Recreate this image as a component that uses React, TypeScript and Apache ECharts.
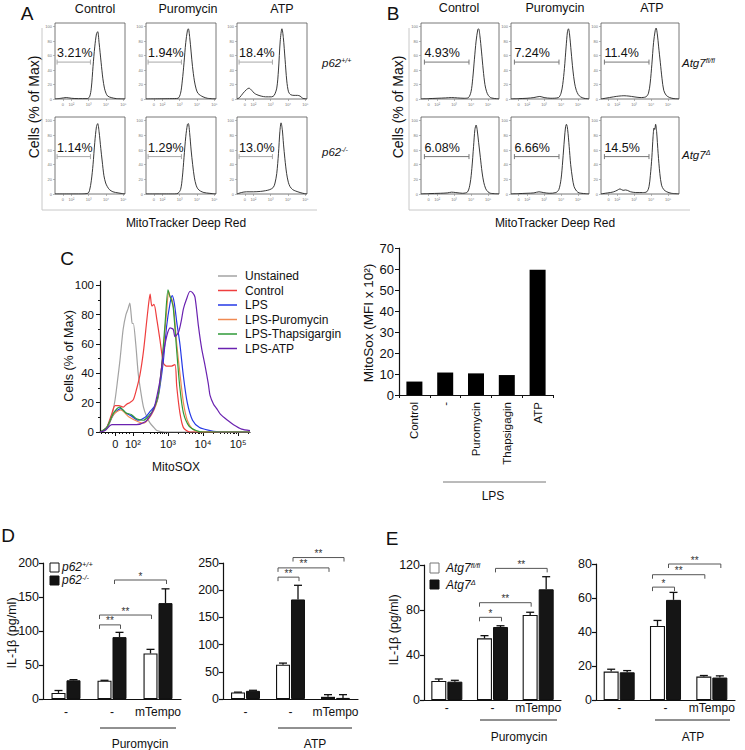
import React, { useEffect, useRef } from 'react';
import * as echarts from 'echarts';

const FONT = '"Liberation Sans", Arial, Helvetica, sans-serif';

// ---------- Panels A & B : flow histograms  [display units (log10), % of max] ----------
const conditions = ['Control', 'Puromycin', 'ATP'];
const flowTicks = [1.5, 2, 3, 4, 5];
const flowTickLabels = ['0', '10²', '10³', '10⁴', '10⁵'];
const pctTicks = [0, 20, 40, 60, 80, 100];

const A_ctrl_wt = [[1.05,0],[1.4,1],[1.7,2],[2.0,1],[2.4,0.5],[2.9,0.5],[3.05,3],[3.15,15],[3.25,45],[3.35,72],[3.45,90],[3.52,93],[3.6,78],[3.72,50],[3.82,28],[3.91,15],[4.0,8],[4.1,4],[4.3,2],[4.6,0.5],[5.1,0]];
const A_puro_wt = [[1.05,0],[2.5,0.5],[2.9,1],[3.05,8],[3.15,25],[3.25,50],[3.35,78],[3.45,95],[3.5,97],[3.58,85],[3.66,65],[3.74,45],[3.85,25],[3.95,14],[4.05,8],[4.2,5],[4.35,3],[4.6,1],[5.1,0]];
const A_atp_wt = [[1.05,0],[1.2,2],[1.4,8],[1.6,13],[1.74,15],[1.9,12],[2.05,8],[2.2,6],[2.45,4],[2.7,3],[3.05,3],[3.2,5],[3.35,15],[3.45,40],[3.55,80],[3.65,97],[3.73,85],[3.83,55],[3.93,25],[4.03,10],[4.15,6],[4.35,5],[4.55,5],[4.7,4],[4.85,1],[5.1,0]];
const A_ctrl_ko = [[1.05,0],[2.5,0],[2.95,1],[3.05,5],[3.15,18],[3.25,40],[3.35,70],[3.45,92],[3.52,96],[3.6,85],[3.7,62],[3.78,45],[3.88,25],[3.98,15],[4.08,10],[4.2,6],[4.4,3],[4.7,1.5],[5.1,0]];
const A_puro_ko = [[1.05,0],[2.7,0],[2.9,1],[3.05,6],[3.15,22],[3.25,50],[3.35,78],[3.45,95],[3.5,96],[3.58,82],[3.66,60],[3.75,40],[3.85,22],[3.95,12],[4.05,7],[4.2,4],[4.4,2],[4.7,1],[5.1,0]];
const A_atp_ko = [[1.05,0],[1.3,2],[1.6,3],[2.0,3],[2.4,3.5],[2.7,4.5],[2.95,6],[3.15,9],[3.25,15],[3.35,28],[3.45,55],[3.53,85],[3.6,97],[3.67,88],[3.74,68],[3.82,48],[3.92,28],[4.02,16],[4.12,10],[4.27,6],[4.45,4],[4.7,2],[4.95,0.5],[5.1,0]];
const A_pct = ['3.21%', '1.94%', '18.4%', '1.14%', '1.29%', '13.0%'];

const B_ctrl_ff = [[1.05,0],[1.5,0.5],[2.0,1],[2.5,1.5],[2.85,2],[3.2,1.5],[3.6,1],[3.85,2],[4.0,10],[4.1,28],[4.2,55],[4.3,80],[4.4,96],[4.45,97],[4.52,88],[4.62,65],[4.72,40],[4.82,20],[4.92,10],[5.02,5],[5.15,2],[5.3,1],[5.65,0]];
const B_puro_ff = [[1.05,0],[1.5,0.5],[2.0,1],[2.4,2],[2.75,3.5],[3.0,2],[3.4,1],[3.85,2],[4.0,8],[4.1,20],[4.2,42],[4.3,72],[4.38,93],[4.44,97],[4.5,90],[4.6,65],[4.7,40],[4.8,22],[4.9,12],[5.02,6],[5.15,3],[5.35,1],[5.65,0]];
const B_atp_ff = [[1.05,0],[1.3,1],[1.8,3],[2.1,4],[2.4,4.5],[2.7,4],[3.0,3],[3.35,2],[3.7,3],[3.85,8],[3.95,22],[4.05,48],[4.15,78],[4.25,95],[4.3,98],[4.37,90],[4.45,72],[4.55,50],[4.65,28],[4.75,12],[4.9,5],[5.1,2],[5.35,0.5],[5.65,0]];
const B_ctrl_d = [[1.05,0],[1.5,0.5],[2.2,1],[2.6,1.5],[2.85,2.5],[3.1,2],[3.5,1],[3.8,3],[3.95,15],[4.05,35],[4.15,65],[4.23,88],[4.3,94],[4.36,88],[4.45,70],[4.55,50],[4.65,30],[4.75,16],[4.87,7],[5.0,3],[5.15,1],[5.65,0]];
const B_puro_d = [[1.05,0],[1.5,0.5],[2.0,1],[2.4,1.5],[2.7,3],[2.95,2],[3.3,1],[3.7,2],[3.87,6],[4.0,20],[4.1,45],[4.2,75],[4.27,92],[4.32,95],[4.39,88],[4.48,65],[4.57,40],[4.67,22],[4.77,10],[4.92,4],[5.07,1.5],[5.65,0]];
const B_atp_d = [[1.05,0],[1.3,1],[1.6,2],[1.8,3],[2.0,5],[2.17,7],[2.35,5],[2.5,5.5],[2.6,5],[2.8,3],[3.1,2],[3.5,2],[3.75,3],[3.88,10],[3.96,25],[4.05,50],[4.12,78],[4.18,90],[4.22,88],[4.27,95],[4.33,85],[4.42,55],[4.52,28],[4.62,12],[4.75,6],[4.93,3],[5.2,1],[5.65,0]];
const B_pct = ['4.93%', '7.24%', '11.4%', '6.08%', '6.66%', '14.5%'];

// ---------- Panel C ----------
const C_names = ['Unstained', 'Control', 'LPS', 'LPS-Puromycin', 'LPS-Thapsigargin', 'LPS-ATP'];
const C_colors = ['#a3a3a3', '#ef3e3e', '#2438e6', '#f08a52', '#2f9a38', '#6a22b0'];
const C_unstained = [[1.06,0],[1.2,1],[1.3,4],[1.39,10],[1.49,22],[1.56,35],[1.63,49],[1.72,70],[1.8,80],[1.86,84],[1.91,88],[1.95,80],[1.98,74],[2.01,74],[2.08,60],[2.15,40],[2.22,28],[2.3,17],[2.4,10],[2.49,6],[2.6,3],[2.68,1],[2.91,0],[5.34,0]];
const C_control = [[1.06,0],[1.15,1],[1.25,3],[1.39,12],[1.49,18],[1.6,18],[1.72,17],[1.82,19],[1.91,20],[2.01,22],[2.1,29],[2.2,39],[2.3,55],[2.39,75],[2.45,88],[2.49,94],[2.54,86],[2.6,87],[2.68,77],[2.77,63],[2.87,47],[2.96,45],[3.1,45],[3.2,46],[3.25,31],[3.34,13],[3.44,3],[3.63,0],[5.34,0]];
const C_lps = [[1.06,0],[1.25,3],[1.45,12],[1.65,16],[1.8,13],[1.95,11],[2.15,8],[2.35,10],[2.49,14],[2.6,17],[2.7,22],[2.77,31],[2.87,49],[2.96,72],[3.06,88],[3.12,93],[3.18,88],[3.25,75],[3.34,60],[3.44,38],[3.55,20],[3.7,8],[3.9,3],[4.2,1],[4.5,0],[5.34,0]];
const C_puro = [[1.06,0],[1.25,3],[1.45,12],[1.65,15],[1.9,10],[2.15,7],[2.3,6],[2.45,9],[2.6,15],[2.7,22],[2.8,40],[2.9,65],[2.97,85],[3.02,96],[3.06,92],[3.12,90],[3.18,80],[3.25,60],[3.34,40],[3.44,20],[3.55,8],[3.7,2],[3.9,0],[5.34,0]];
const C_thaps = [[1.06,0],[1.25,3],[1.45,13],[1.62,17],[1.8,13],[1.95,12],[2.1,9],[2.3,8],[2.45,11],[2.6,16],[2.72,25],[2.82,45],[2.92,75],[3.0,97],[3.05,93],[3.1,90],[3.15,85],[3.25,55],[3.34,30],[3.44,13],[3.6,4],[3.8,1],[4.0,0],[5.34,0]];
const C_atp = [[1.06,0],[1.2,1],[1.4,5],[1.7,5],[2.1,5],[2.35,7],[2.49,11],[2.6,16],[2.68,24],[2.77,35],[2.87,54],[2.97,66],[3.06,71],[3.15,70],[3.2,65],[3.3,68],[3.38,76],[3.44,84],[3.52,90],[3.63,96],[3.7,95],[3.77,92],[3.87,72],[3.96,57],[4.06,45],[4.15,33],[4.2,25],[4.3,19],[4.39,16],[4.5,12],[4.7,8],[4.87,5],[5.1,2],[5.34,1]];
const C_minorTicks = [1.1, 1.2, 1.3, 1.4, 1.6, 1.7, 1.8, 1.9, 2.3, 2.48, 2.6, 2.7, 2.78, 2.85, 2.9, 2.95, 3.3, 3.48, 3.6, 3.7, 3.78, 3.85, 3.9, 3.95, 4.3, 4.48, 4.6, 4.7, 4.78, 4.85, 4.9, 4.95, 5.3];

const C_bar_categories = ['Control', '-', 'Puromycin', 'Thapsigagin', 'ATP'];
const C_bar_values = [6.4, 10.7, 10.3, 9.5, 59.6];

// ---------- Panels D & E ----------
const treatLabels = ['-', '-', 'mTempo'];
const D_puro_wt = [9, 27, 67];
const D_puro_wt_err = [3.5, 0.5, 6];
const D_puro_ko = [27.5, 91, 141];
const D_puro_ko_err = [1, 7, 21];
const D_atp_wt = [12, 63, 4];
const D_atp_wt_err = [0.6, 3, 4];
const D_atp_ko = [15, 183, 2];
const D_atp_ko_err = [1, 26, 6];
const E_puro_ff = [16.9, 54.8, 75.6];
const E_puro_ff_err = [1.8, 2.4, 2.4];
const E_puro_d = [16.3, 64.9, 98.4];
const E_puro_d_err = [1.2, 1.1, 11.2];
const E_atp_ff = [16.7, 43.6, 13.8];
const E_atp_ff_err = [1.4, 3.2, 0.6];
const E_atp_d = [16.3, 58.9, 13.2];
const E_atp_d_err = [1.0, 4.4, 1.0];
// brackets: [group1, side1 (0 white / 1 black), group2, side2, y, label]
const D_puro_sig = [[1, 0, 1, 1, 109, '**'], [1, 0, 2, 0, 123.5, '**'], [1, 1, 2, 1, 175, '*']];
const D_atp_sig = [[1, 0, 1, 1, 224, '**'], [1, 0, 2, 0, 241, '**'], [1, 1, 2, 1, 260, '**']];
const E_puro_sig = [[1, 0, 1, 1, 73.5, '*'], [1, 0, 2, 0, 86.5, '**'], [1, 1, 2, 1, 117, '**']];
const E_atp_sig = [[1, 0, 1, 1, 66.4, '*'], [1, 0, 2, 0, 73.7, '**'], [1, 1, 2, 1, 80, '**']];

function labelFor(values: number[], labels: string[]) {
  return (v: number) => {
    const i = values.findIndex((t) => Math.abs(t - v) < 1e-6);
    return i >= 0 ? labels[i] : '';
  };
}

function buildOption() {
  const grid: any[] = [];
  const xAxis: any[] = [];
  const yAxis: any[] = [];
  const series: any[] = [];
  const graphic: any[] = [];

  const addGrid = (g: any, xa: any, ya: any) => {
    grid.push(g);
    const gi = grid.length - 1;
    xAxis.push({ position: 'bottom', ...xa, gridIndex: gi });
    yAxis.push({ position: 'left', ...ya, gridIndex: gi });
    return { gi, xi: xAxis.length - 1, yi: yAxis.length - 1 };
  };

  // ---- flow cells ----
  const flowCell = (left: number, top: number, width: number, height: number, xmax: number,
    data: number[][], gate: number[], pct: string, gateColor: string) => {
    const { xi, yi } = addGrid(
      { left, top, width, height, show: true, borderColor: '#555', borderWidth: 0.8, backgroundColor: 'transparent' },
      {
        type: 'value', min: 1.05, max: xmax, splitLine: { show: false }, axisLine: { show: false },
        axisTick: { show: true, customValues: flowTicks, length: 2, lineStyle: { color: '#888', width: 0.6 } },
        axisLabel: { show: true, customValues: flowTicks, formatter: labelFor(flowTicks, flowTickLabels), fontSize: 4, color: '#777', margin: 3, fontFamily: FONT },
      },
      {
        type: 'value', min: 0, max: 105, splitLine: { show: false }, axisLine: { show: false },
        axisTick: { show: true, customValues: pctTicks, length: 2, lineStyle: { color: '#888', width: 0.6 } },
        axisLabel: { show: true, customValues: pctTicks, fontSize: 4, color: '#777', margin: 3, fontFamily: FONT },
      }
    );
    series.push({
      type: 'line', xAxisIndex: xi, yAxisIndex: yi, data, smooth: 0.3, symbol: 'none', silent: true,
      lineStyle: { color: '#222', width: 0.9 },
    });
    series.push({
      type: 'custom', xAxisIndex: xi, yAxisIndex: yi, silent: true, data: [gate],
      renderItem: (params: any, api: any) => {
        const a = api.coord([api.value(0), api.value(2)]);
        const b = api.coord([api.value(1), api.value(2)]);
        const st = { stroke: gateColor, lineWidth: 1 };
        return {
          type: 'group', children: [
            { type: 'line', shape: { x1: a[0], y1: a[1], x2: b[0], y2: b[1] }, style: st },
            { type: 'line', shape: { x1: a[0], y1: a[1] - 2.5, x2: a[0], y2: a[1] + 2.5 }, style: st },
            { type: 'line', shape: { x1: b[0], y1: b[1] - 2.5, x2: b[0], y2: b[1] + 2.5 }, style: st },
            { type: 'text', x: a[0], y: a[1] - 9, style: { text: pct, fontSize: 12.5, fill: '#111', align: 'left', verticalAlign: 'middle', fontFamily: FONT } },
          ],
        };
      },
    });
  };

  const A_data = [A_ctrl_wt, A_puro_wt, A_atp_wt, A_ctrl_ko, A_puro_ko, A_atp_ko];
  const B_data = [B_ctrl_ff, B_puro_ff, B_atp_ff, B_ctrl_d, B_puro_d, B_atp_d];
  const A_lefts = [55, 146, 237];
  const B_lefts = [421, 511, 601];
  const rowTops = [23, 117];
  const rowHeights = [76, 77];
  for (let r = 0; r < 2; r++) {
    for (let c = 0; c < 3; c++) {
      flowCell(A_lefts[c], rowTops[r], 70, rowHeights[r], 5.1, A_data[r * 3 + c], [1.17, 3.1, 51], A_pct[r * 3 + c], '#a8a8a8');
      flowCell(B_lefts[c], rowTops[r], 78, rowHeights[r], 5.65, B_data[r * 3 + c], [1.25, 3.88, 51], B_pct[r * 3 + c], '#777');
    }
  }

  // ---- Panel C histogram ----
  const ch = addGrid(
    { left: 100, top: 281, width: 150, height: 151 },
    {
      type: 'value', min: 1.06, max: 5.34, splitLine: { show: false },
      axisLine: { show: true, lineStyle: { color: '#111', width: 1.2 } },
      axisTick: { show: true, customValues: flowTicks, length: 4, lineStyle: { color: '#111' } },
      axisLabel: { show: true, customValues: flowTicks, formatter: labelFor(flowTicks, flowTickLabels), fontSize: 11, color: '#111', margin: 6, fontFamily: FONT },
    },
    {
      type: 'value', min: 0, max: 103, splitLine: { show: false },
      axisLine: { show: true, lineStyle: { color: '#111', width: 1.2 } },
      axisTick: { show: true, customValues: pctTicks, length: 4, lineStyle: { color: '#111' } },
      axisLabel: { show: true, customValues: pctTicks, fontSize: 11.5, color: '#111', margin: 6, fontFamily: FONT },
    }
  );
  xAxis.push({
    gridIndex: ch.gi, position: 'bottom', type: 'value', min: 1.06, max: 5.34, splitLine: { show: false },
    axisLine: { show: false }, axisLabel: { show: false },
    axisTick: { show: true, customValues: C_minorTicks, length: 2, lineStyle: { color: '#111' } },
  });
  yAxis.push({
    gridIndex: ch.gi, position: 'left', type: 'value', min: 0, max: 103, splitLine: { show: false },
    axisLine: { show: false }, axisLabel: { show: false },
    axisTick: { show: true, customValues: [10, 30, 50, 70, 90], length: 2, lineStyle: { color: '#111' } },
  });
  const C_data = [C_unstained, C_control, C_lps, C_puro, C_thaps, C_atp];
  C_data.forEach((d, i) => {
    series.push({
      type: 'line', name: C_names[i], xAxisIndex: ch.xi, yAxisIndex: ch.yi, data: d, smooth: 0.25,
      symbol: 'none', silent: true, color: C_colors[i], itemStyle: { color: C_colors[i] },
      lineStyle: { color: C_colors[i], width: 1.2 },
    });
  });

  // ---- Panel C bars ----
  const cb = addGrid(
    { left: 399, top: 248, width: 154, height: 147 },
    {
      type: 'category', data: C_bar_categories,
      axisLine: { show: true, lineStyle: { color: '#111', width: 1.2 } },
      axisTick: { show: true, alignWithLabel: false, length: 3, lineStyle: { color: '#111' } },
      axisLabel: { rotate: 90, interval: 0, fontSize: 11.5, color: '#111', margin: 7, fontFamily: FONT },
    },
    {
      type: 'value', min: 0, max: 70, interval: 10, splitLine: { show: false },
      axisLine: { show: true, lineStyle: { color: '#111', width: 1.2 } },
      axisTick: { show: true, length: 4, lineStyle: { color: '#111' } },
      axisLabel: { fontSize: 13, color: '#111', margin: 5, fontFamily: FONT },
    }
  );
  series.push({ type: 'bar', xAxisIndex: cb.xi, yAxisIndex: cb.yi, data: C_bar_values, barWidth: 16, itemStyle: { color: '#000' }, silent: true });

  // ---- Panels D & E ----
  const errSeries = (xi: number, yi: number, vals: number[], errs: number[], side: number, half: number) => ({
    type: 'custom', xAxisIndex: xi, yAxisIndex: yi, silent: true, z: 4,
    data: vals.map((v, i) => [i, v, errs[i]]),
    renderItem: (params: any, api: any) => {
      const g = api.value(0), v = api.value(1), e = api.value(2);
      const base = api.coord([g, v]);
      const top = api.coord([g, v + e]);
      const x = base[0] + side * half;
      const st = { stroke: '#111', lineWidth: 1.3 };
      return {
        type: 'group', children: [
          { type: 'line', shape: { x1: x, y1: base[1], x2: x, y2: top[1] }, style: st },
          { type: 'line', shape: { x1: x - 4, y1: top[1], x2: x + 4, y2: top[1] }, style: st },
        ],
      };
    },
  });
  const sigSeries = (xi: number, yi: number, sig: any[], half: number) => ({
    type: 'custom', xAxisIndex: xi, yAxisIndex: yi, silent: true, z: 4,
    data: sig.map((s) => [s[0], s[1], s[2], s[3], s[4]]),
    renderItem: (params: any, api: any) => {
      const y = api.value(4);
      const a = api.coord([api.value(0), y]);
      const b = api.coord([api.value(2), y]);
      const x1 = a[0] + (api.value(1) ? half : -half) - 5;
      const x2 = b[0] + (api.value(3) ? half : -half) + 1;
      const yy = a[1];
      const st = { stroke: '#555', lineWidth: 1 };
      return {
        type: 'group', children: [
          { type: 'polyline', shape: { points: [[x1, yy + 4], [x1, yy], [x2, yy], [x2, yy + 4]] }, style: { ...st, fill: 'none' } },
          { type: 'text', x: (x1 + x2) / 2, y: yy - 4, style: { text: sig[params.dataIndex][5], fontSize: 10, fill: '#333', align: 'center', verticalAlign: 'middle', fontFamily: FONT } },
        ],
      };
    },
  });

  const barPanel = (left: number, top: number, width: number, height: number, max: number, interval: number,
    wt: number[], wtErr: number[], ko: number[], koErr: number[], sig: any[], barW: number, labelMargin: number) => {
    const half = barW / 2 + 0.5;
    const p = addGrid(
      { left, top, width, height },
      {
        type: 'category', data: ['g0', 'g1', 'g2'],
        axisLine: { show: true, lineStyle: { color: '#111', width: 1.2 } },
        axisTick: { show: false },
        axisLabel: { interval: 0, formatter: (v: string, i: number) => treatLabels[i], fontSize: 12, color: '#111', margin: labelMargin, fontFamily: FONT },
      },
      {
        type: 'value', min: 0, max, interval, splitLine: { show: false },
        axisLine: { show: true, lineStyle: { color: '#111', width: 1.2 } },
        axisTick: { show: true, length: 4, lineStyle: { color: '#111', width: 1.2 } },
        axisLabel: { fontSize: 12.5, color: '#111', margin: 4, fontFamily: FONT },
      }
    );
    series.push({ type: 'bar', xAxisIndex: p.xi, yAxisIndex: p.yi, data: wt, barWidth: barW, barGap: '7%', silent: true, itemStyle: { color: '#fff', borderColor: '#111', borderWidth: 1.1 } });
    series.push({ type: 'bar', xAxisIndex: p.xi, yAxisIndex: p.yi, data: ko, barWidth: barW, barGap: '7%', silent: true, itemStyle: { color: '#151515', borderColor: '#111', borderWidth: 1 } });
    series.push(errSeries(p.xi, p.yi, wt, wtErr, -1, half));
    series.push(errSeries(p.xi, p.yi, ko, koErr, 1, half));
    series.push(sigSeries(p.xi, p.yi, sig, half));
  };
  barPanel(43, 563, 138, 136, 200, 50, D_puro_wt, D_puro_wt_err, D_puro_ko, D_puro_ko_err, D_puro_sig, 14, 7);
  barPanel(223, 563, 135, 136, 250, 50, D_atp_wt, D_atp_wt_err, D_atp_ko, D_atp_ko_err, D_atp_sig, 14, 7);
  barPanel(424, 565, 137, 135, 120, 40, E_puro_ff, E_puro_ff_err, E_puro_d, E_puro_d_err, E_puro_sig, 15, 2);
  barPanel(596, 564, 139, 136, 80, 20, E_atp_ff, E_atp_ff_err, E_atp_d, E_atp_d_err, E_atp_sig, 15, 2);

  // ---- annotation texts ----
  const txt = (text: string, x: number, y: number, fontSize: number, extra: any = {}) => ({
    type: 'text', x, y, silent: true,
    style: { text, fontSize, fill: '#111', align: 'center', verticalAlign: 'middle', fontFamily: FONT, ...extra },
  });
  const vtxt = (text: string, x: number, y: number, fontSize: number) => ({ ...txt(text, x, y, fontSize), rotation: Math.PI / 2 });
  const genoRich = (fs: number) => ({
    i: { fontStyle: 'italic', fontSize: fs, fontFamily: FONT, fill: '#111' },
    s: { fontStyle: 'italic', fontSize: fs * 0.62, fontFamily: FONT, fill: '#111', verticalAlign: 'top' },
  });
  const geno = (base: string, sup: string, x: number, y: number, fs: number) => ({
    type: 'text', x, y, silent: true,
    style: { text: `{i|${base}}{s|${sup}}`, rich: genoRich(fs), align: 'left', verticalAlign: 'middle', fontFamily: FONT },
  });
  const ln = (x1: number, y1: number, x2: number, y2: number, color = '#111', w = 1) => ({
    type: 'line', silent: true, shape: { x1, y1, x2, y2 }, style: { stroke: color, lineWidth: w },
  });

  graphic.push(txt('A', 27, 13, 19), txt('B', 393, 13, 19), txt('C', 67, 258, 19), txt('D', 8, 535, 19), txt('E', 392, 538, 19));
  [95, 188, 282].forEach((x, i) => graphic.push(txt(conditions[i], x, 9, 12.5)));
  [459, 555, 652].forEach((x, i) => graphic.push(txt(conditions[i], x, 8, 12.5)));
  graphic.push(geno('p62', '+/+', 322, 63, 11.5), geno('p62', '-/-', 322, 152, 11.5));
  graphic.push(geno('Atg7', 'fl/fl', 682, 63, 11.5), geno('Atg7', 'Δ', 682, 155, 11.5));
  graphic.push(vtxt('Cells (% of Max)', 34, 107, 14), vtxt('Cells (% of Max)', 398, 107, 14));
  graphic.push(txt('MitoTracker Deep Red', 186, 223, 12), txt('MitoTracker Deep Red', 555, 223, 12));
  graphic.push({ type: 'polyline', silent: true, shape: { points: [[42, 28], [42, 210], [317, 210]] }, style: { stroke: '#c8c8c8', lineWidth: 1, fill: 'none' } });
  graphic.push({ type: 'polyline', silent: true, shape: { points: [[409, 28], [409, 210], [690, 210]] }, style: { stroke: '#c8c8c8', lineWidth: 1, fill: 'none' } });

  graphic.push(vtxt('Cells (% of Max)', 69, 356, 12.5), txt('MitoSOX', 176, 467, 12));
  graphic.push(vtxt('MitoSox (MFI x 10²)', 368, 323, 13.5), ln(443, 482, 546, 482, '#777'), txt('LPS', 493, 496, 12));

  graphic.push(vtxt('IL-1β (pg/ml)', 12, 633, 12.5), vtxt('IL-1β (pg/ml)', 394, 630, 12.5));
  graphic.push({ type: 'rect', silent: true, shape: { x: 50, y: 563, width: 9, height: 9 }, style: { fill: '#fff', stroke: '#111', lineWidth: 1 } });
  graphic.push({ type: 'rect', silent: true, shape: { x: 50, y: 576, width: 9, height: 9 }, style: { fill: '#111', stroke: '#111', lineWidth: 1 } });
  graphic.push(geno('p62', '+/+', 62, 567, 12), geno('p62', '-/-', 62, 580, 12));
  graphic.push({ type: 'rect', silent: true, shape: { x: 430, y: 563, width: 9, height: 10 }, style: { fill: '#fff', stroke: '#777', lineWidth: 1 } });
  graphic.push({ type: 'rect', silent: true, shape: { x: 430, y: 580, width: 9, height: 9 }, style: { fill: '#111', stroke: '#111', lineWidth: 1 } });
  graphic.push(geno('Atg7', 'fl/fl', 446, 568, 12), geno('Atg7', 'Δ', 446, 585, 12));

  graphic.push(ln(100, 728, 176, 728, '#222'), txt('Puromycin', 140, 744, 12));
  graphic.push(ln(278, 728, 352, 728, '#222'), txt('ATP', 315, 744, 12));
  graphic.push(ln(480, 720, 557, 720, '#222'), txt('Puromycin', 519, 737, 12));
  graphic.push(ln(655, 720, 730, 720, '#222'), txt('ATP', 693, 737, 12));

  return {
    animation: false,
    backgroundColor: '#fff',
    textStyle: { fontFamily: FONT },
    legend: {
      data: C_names, orient: 'vertical', left: 218, top: 270, icon: 'rect', itemWidth: 19, itemHeight: 1.5, itemGap: 2.5,
      padding: 0, selectedMode: false,
      textStyle: { fontSize: 12, color: '#111', fontFamily: FONT, padding: [0, 0, 0, 3] },
    },
    grid, xAxis, yAxis, series, graphic,
  };
}

export default function App() {
  const ref = useRef<HTMLDivElement>(null);
  useEffect(() => {
    document.body.style.margin = '0';
    const chart = echarts.init(ref.current!, null, { renderer: 'svg' });
    chart.setOption(buildOption() as any);
    return () => chart.dispose();
  }, []);
  return <div ref={ref} style={{ width: 745, height: 750 }} />;
}
